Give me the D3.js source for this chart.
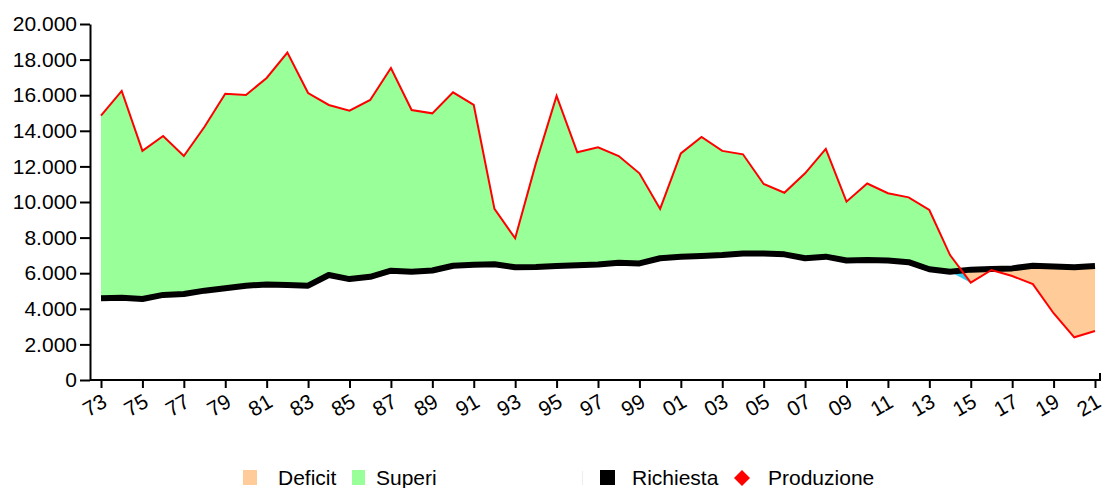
<!DOCTYPE html>
<html>
<head>
<meta charset="utf-8">
<script src="https://cdn.jsdelivr.net/npm/d3@7"></script>
<style>
  html, body { margin: 0; padding: 0; background: #fff; }
  svg { display: block; font-family: "Liberation Sans", Arial, sans-serif; }
</style>
</head>
<body>
<svg id="chart" width="1105" height="488"></svg>
<script>
// ---- Data ----
const years = d3.range(1973, 2022);
const production = [
  14850, 16240, 12870, 13710, 12580, 14230, 16080, 16010, 16970, 18390,
  16120, 15450, 15130, 15730, 17530, 15170, 14980, 16160, 15450, 9610,
  7960, 12170, 15960, 12790, 13070, 12580, 11610, 9610, 12730, 13650,
  12870, 12680, 11010, 10520, 11610, 12980, 10020, 11040, 10490, 10260,
  9550, 7020, 5470, 6180, 5840, 5390, 3750, 2400, 2750
];
const demand = [
  4590, 4620, 4550, 4780, 4830, 5020, 5150, 5300, 5370, 5340,
  5300, 5900, 5670, 5800, 6140, 6080, 6150, 6420, 6480, 6500,
  6330, 6350, 6400, 6440, 6490, 6590, 6550, 6840, 6930, 6970,
  7020, 7110, 7100, 7060, 6840, 6930, 6710, 6740, 6710, 6620,
  6220, 6080, 6200, 6240, 6270, 6420, 6370, 6330, 6400
];
const yTicks = [0, 2000, 4000, 6000, 8000, 10000, 12000, 14000, 16000, 18000, 20000];
const xTicks = d3.range(1973, 2022, 2);
const legendItems = ["Deficit", "Superi", "", "Richiesta", "Produzione"];

const colors = {
  deficit: "#ffcc99",
  superi: "#99ff99",
  gap: "#33ccee",
  demand: "#000000",
  production: "#ff0000"
};

const data = years.map((y, i) => ({ year: y, prod: production[i], dem: demand[i] }));

// ---- Layout ----
const svg = d3.select("#chart");
const W = 1105, H = 488;
const x = d3.scaleLinear().domain([1973, 2021]).range([101, 1095]);
const y = d3.scaleLinear().domain([0, 20000]).range([380, 24]);

const itLocale = d3.formatLocale({ decimal: ",", thousands: ".", grouping: [3], currency: ["", "€"] });
const fmt = itLocale.format(",.0f");

// ---- Clip paths ----
const defs = svg.append("defs");
defs.append("clipPath").attr("id", "above")
  .append("path")
  .attr("d", d3.area().x(d => x(d.year)).y0(0).y1(d => y(d.dem))(data));
defs.append("clipPath").attr("id", "below")
  .append("path")
  .attr("d", d3.area().x(d => x(d.year)).y0(H).y1(d => y(d.dem))(data));

const band = d3.area().x(d => x(d.year)).y0(d => y(d.dem)).y1(d => y(d.prod));

svg.append("path").attr("d", band(data)).attr("fill", colors.superi)
  .attr("clip-path", "url(#above)");
svg.append("path").attr("d", band(data)).attr("fill", colors.deficit)
  .attr("clip-path", "url(#below)");

// small wedge at the crossing (surplus -> deficit)
for (let i = 0; i < data.length - 1; i++) {
  const a = data[i], b = data[i + 1];
  if (a.prod > a.dem && b.prod < b.dem) {
    const da = a.prod - a.dem, db = b.prod - b.dem;
    const t = da / (da - db);
    const cx = a.year + t, cyv = a.dem + t * (b.dem - a.dem);
    svg.append("path")
      .attr("d", d3.line()([[x(a.year), y(a.dem)], [x(cx), y(cyv)], [x(b.year), y(b.prod)]]) + "Z")
      .attr("fill", colors.gap);
  }
}

// ---- Lines ----
svg.append("path")
  .attr("d", d3.line().x(d => x(d.year)).y(d => y(d.dem))(data))
  .attr("fill", "none").attr("stroke", colors.demand).attr("stroke-width", 6)
  .attr("stroke-linejoin", "round");
svg.append("path")
  .attr("d", d3.line().x(d => x(d.year)).y(d => y(d.prod))(data))
  .attr("fill", "none").attr("stroke", colors.production).attr("stroke-width", 2)
  .attr("stroke-linejoin", "miter");

// ---- Axes ----
const yAxis = svg.append("g").attr("transform", "translate(90,0)")
  .call(d3.axisLeft(y).tickValues(yTicks).tickFormat(fmt).tickSize(10).tickSizeOuter(0).tickPadding(3));
yAxis.select(".domain").attr("stroke", "#000").attr("stroke-width", 2);
yAxis.selectAll(".tick line").attr("stroke", "#000").attr("stroke-width", 2);
yAxis.selectAll(".tick text").attr("font-size", 21).attr("fill", "#000")
  .attr("font-family", "Liberation Sans, Arial, sans-serif");

const xAxis = svg.append("g").attr("transform", "translate(0,380)")
  .call(d3.axisBottom(x).tickValues(xTicks).tickFormat(d => String(d % 100).padStart(2, "0"))
    .tickSize(8).tickSizeOuter(0));
xAxis.select(".domain").attr("d", "M90,0H1100V-7").attr("stroke", "#000").attr("stroke-width", 2).attr("fill", "none");
xAxis.selectAll(".tick line").attr("stroke", "#000").attr("stroke-width", 2);
xAxis.selectAll(".tick text")
  .attr("font-size", 21).attr("fill", "#000")
  .attr("font-family", "Liberation Sans, Arial, sans-serif")
  .attr("text-anchor", "middle")
  .attr("dy", null).attr("y", null)
  .attr("dominant-baseline", "central")
  .attr("transform", "translate(-7,25) rotate(-30)");

// ---- Legend ----
const lg = svg.append("g").attr("font-size", 21).attr("fill", "#000");
const legendY = 477;
// Deficit
lg.append("rect").attr("x", 243).attr("y", legendY - 7).attr("width", 14).attr("height", 15).attr("fill", colors.deficit);
lg.append("text").attr("x", 278).attr("y", legendY + 8).text(legendItems[0]);
// Superi
lg.append("rect").attr("x", 352).attr("y", legendY - 7).attr("width", 13).attr("height", 15).attr("fill", colors.superi);
lg.append("text").attr("x", 376).attr("y", legendY + 8).text(legendItems[1]);
// blank item
lg.append("rect").attr("x", 582).attr("y", legendY - 6).attr("width", 1).attr("height", 14).attr("fill", "#eeeeee");
lg.append("text").attr("x", 590).attr("y", legendY + 8).text(legendItems[2]);
// Richiesta
lg.append("rect").attr("x", 600).attr("y", legendY - 7).attr("width", 15).attr("height", 15).attr("fill", colors.demand);
lg.append("text").attr("x", 632).attr("y", legendY + 8).text(legendItems[3]);
// Produzione
lg.append("path").attr("d", d3.symbol(d3.symbolSquare, 128)())
  .attr("transform", `translate(742,${legendY + 1}) rotate(45)`).attr("fill", colors.production);
lg.append("text").attr("x", 768).attr("y", legendY + 8).text(legendItems[4]);
</script>
</body>
</html>
